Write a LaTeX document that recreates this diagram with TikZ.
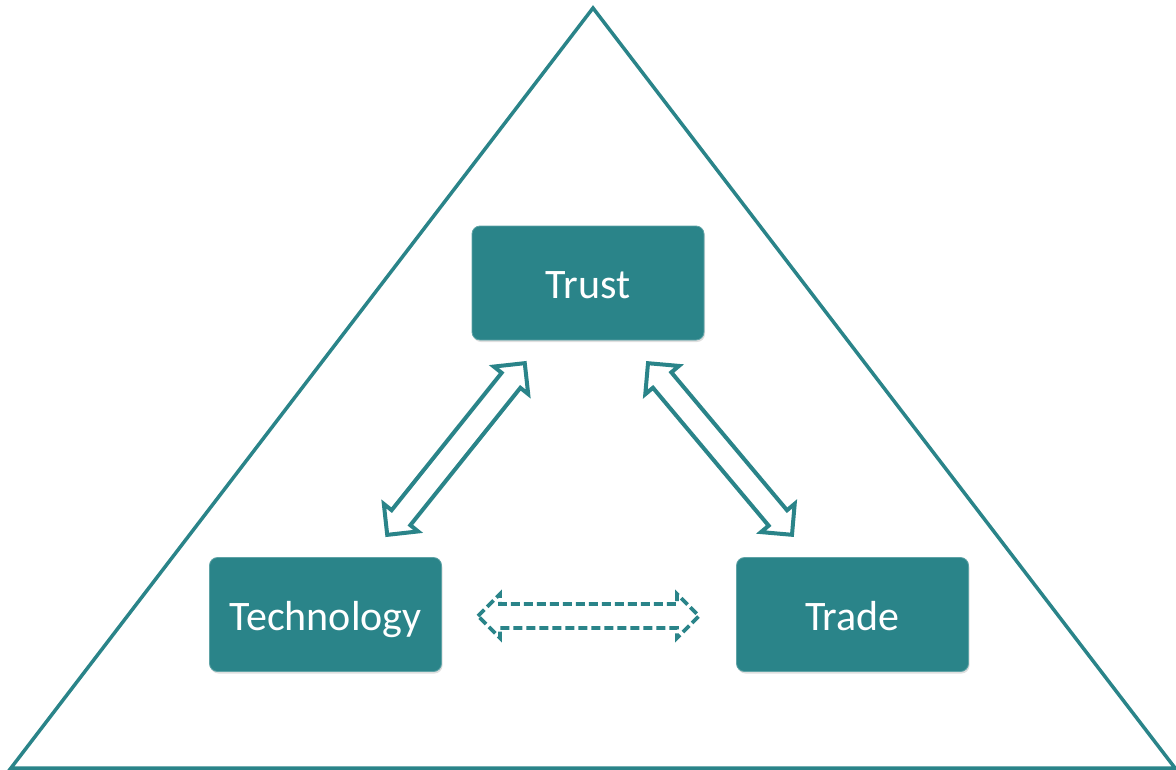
\documentclass[tikz,border=0pt]{standalone}
\usepackage{fontspec}
\setmainfont{Carlito}
\usetikzlibrary{shadows}
\definecolor{teal1}{HTML}{2A8489}
\tikzset{
  box/.style={draw=teal1!75!white, line width=0.8pt, fill=teal1, rounded corners=8pt,
    minimum width=232pt, minimum height=114pt, text=white, inner sep=0pt,
    font=\fontsize{42}{50}\selectfont, text height=31pt, text depth=0pt,
    drop shadow={opacity=0.25, shadow xshift=1pt, shadow yshift=-2pt}},
  arrowline/.style={draw=teal1, line width=4pt, line join=miter, fill=white},
  pics/dblarr/.style args={#1/#2}{code={
    \path[#2] (-#1/2,0) -- (-#1/2+22,-22) -- (-#1/2+22,-12) -- (#1/2-22,-12) -- (#1/2-22,-22)
      -- (#1/2,0) -- (#1/2-22,22) -- (#1/2-22,12) -- (-#1/2+22,12) -- (-#1/2+22,22) -- cycle;
  }}
}
\begin{document}
\begin{tikzpicture}[x=1pt,y=-1pt]
\useasboundingbox (0,0) rectangle (1176,769);
\coordinate (apex) at (593,8);
\coordinate (bl) at (11,768);
\coordinate (br) at (1175,768);
\draw[teal1, line width=3.5pt, line join=miter] (bl) -- (apex) -- (br) -- cycle;

\node[box] (trust) at (588,283) {Trust};
\node[box] (tech) at (325.5,614.5) {Technology};
\node[box] (trade) at (852.5,614.5) {Trade};

\pic at (456,449) [rotate=51.3] {dblarr={220/arrowline}};
\pic at (720,449) [rotate=-50] {dblarr={224/arrowline}};
\pic at (588.5,616) {dblarr={221/{arrowline, dash pattern=on 9pt off 4pt, line width=3.8pt}}};
\end{tikzpicture}
\end{document}
